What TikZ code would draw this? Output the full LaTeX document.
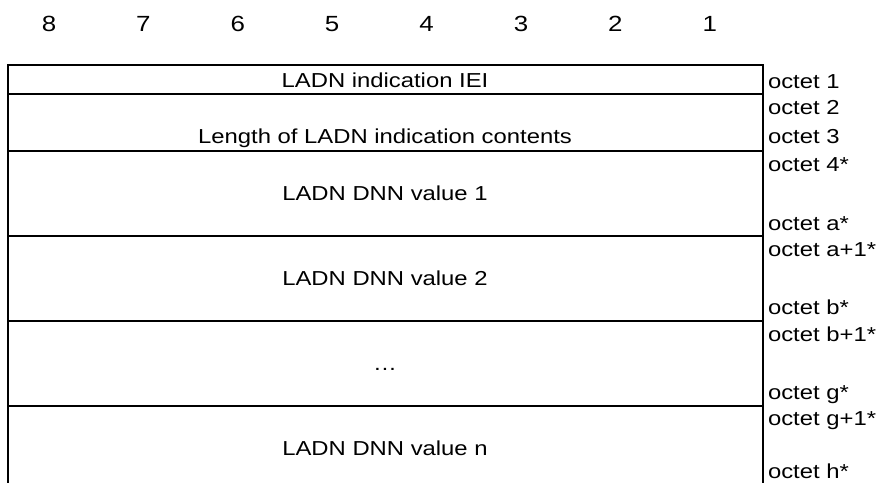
\documentclass[tikz,border=0pt]{standalone}
\usepackage{fontspec}
\setmainfont{Liberation Sans}[FakeStretch=1.18]
\begin{document}
\begin{tikzpicture}[x=0.02cm, y=-0.02cm, line width=1.2pt,
		field/.style={inner sep=0pt, text height=1.5ex, text depth=0pt, font=\fontsize{11.5}{13}\selectfont},
		octet/.style={anchor=west, inner sep=0pt, text height=1.5ex, text depth=0pt, font=\fontsize{11.5}{13}\selectfont},
		bitnum/.style={inner sep=0pt, text height=1.5ex, text depth=0pt, font=\fontsize{12.5}{14}\selectfont}]
	\useasboundingbox (0,0) rectangle (879,483);
	
	% bit numbers
	\foreach \b [count=\i from 0] in {8,7,6,5,4,3,2,1}
		\node[bitnum] (bit\b) at ({49+94.4*\i},25) {\b};
	
	% frame and field borders
	\draw (8,483) -- (8,65) -- (763,65) -- (763,483);
	\foreach \y in {94,151,236,321,406}
		\draw (8,\y) -- (763,\y);
	
	% field contents
	\node[field] (iei) at (385,81) {LADN indication IEI};
	\node[field] (len) at (385,137) {Length of LADN indication contents};
	\node[field] (dnn1) at (385,194) {LADN DNN value 1};
	\node[field] (dnn2) at (385,279) {LADN DNN value 2};
	\node[field] (dots) at (385,364) {…};
	\node[field] (dnnn) at (385,449) {LADN DNN value n};
	
	% octet labels
	\node[octet] (o1) at (767,82) {octet 1};
	\node[octet] (o2) at (767,108) {octet 2};
	\node[octet] (o3) at (767,137) {octet 3};
	\node[octet] (o4) at (767,165) {octet 4*};
	\node[octet] (oa) at (767,224) {octet a*};
	\node[octet] (oa1) at (767,250) {octet a+1*};
	\node[octet] (ob) at (767,308) {octet b*};
	\node[octet] (ob1) at (767,335) {octet b+1*};
	\node[octet] (og) at (767,393) {octet g*};
	\node[octet] (og1) at (767,419) {octet g+1*};
	\node[octet] (oh) at (767,472) {octet h*};
\end{tikzpicture}
\end{document}
